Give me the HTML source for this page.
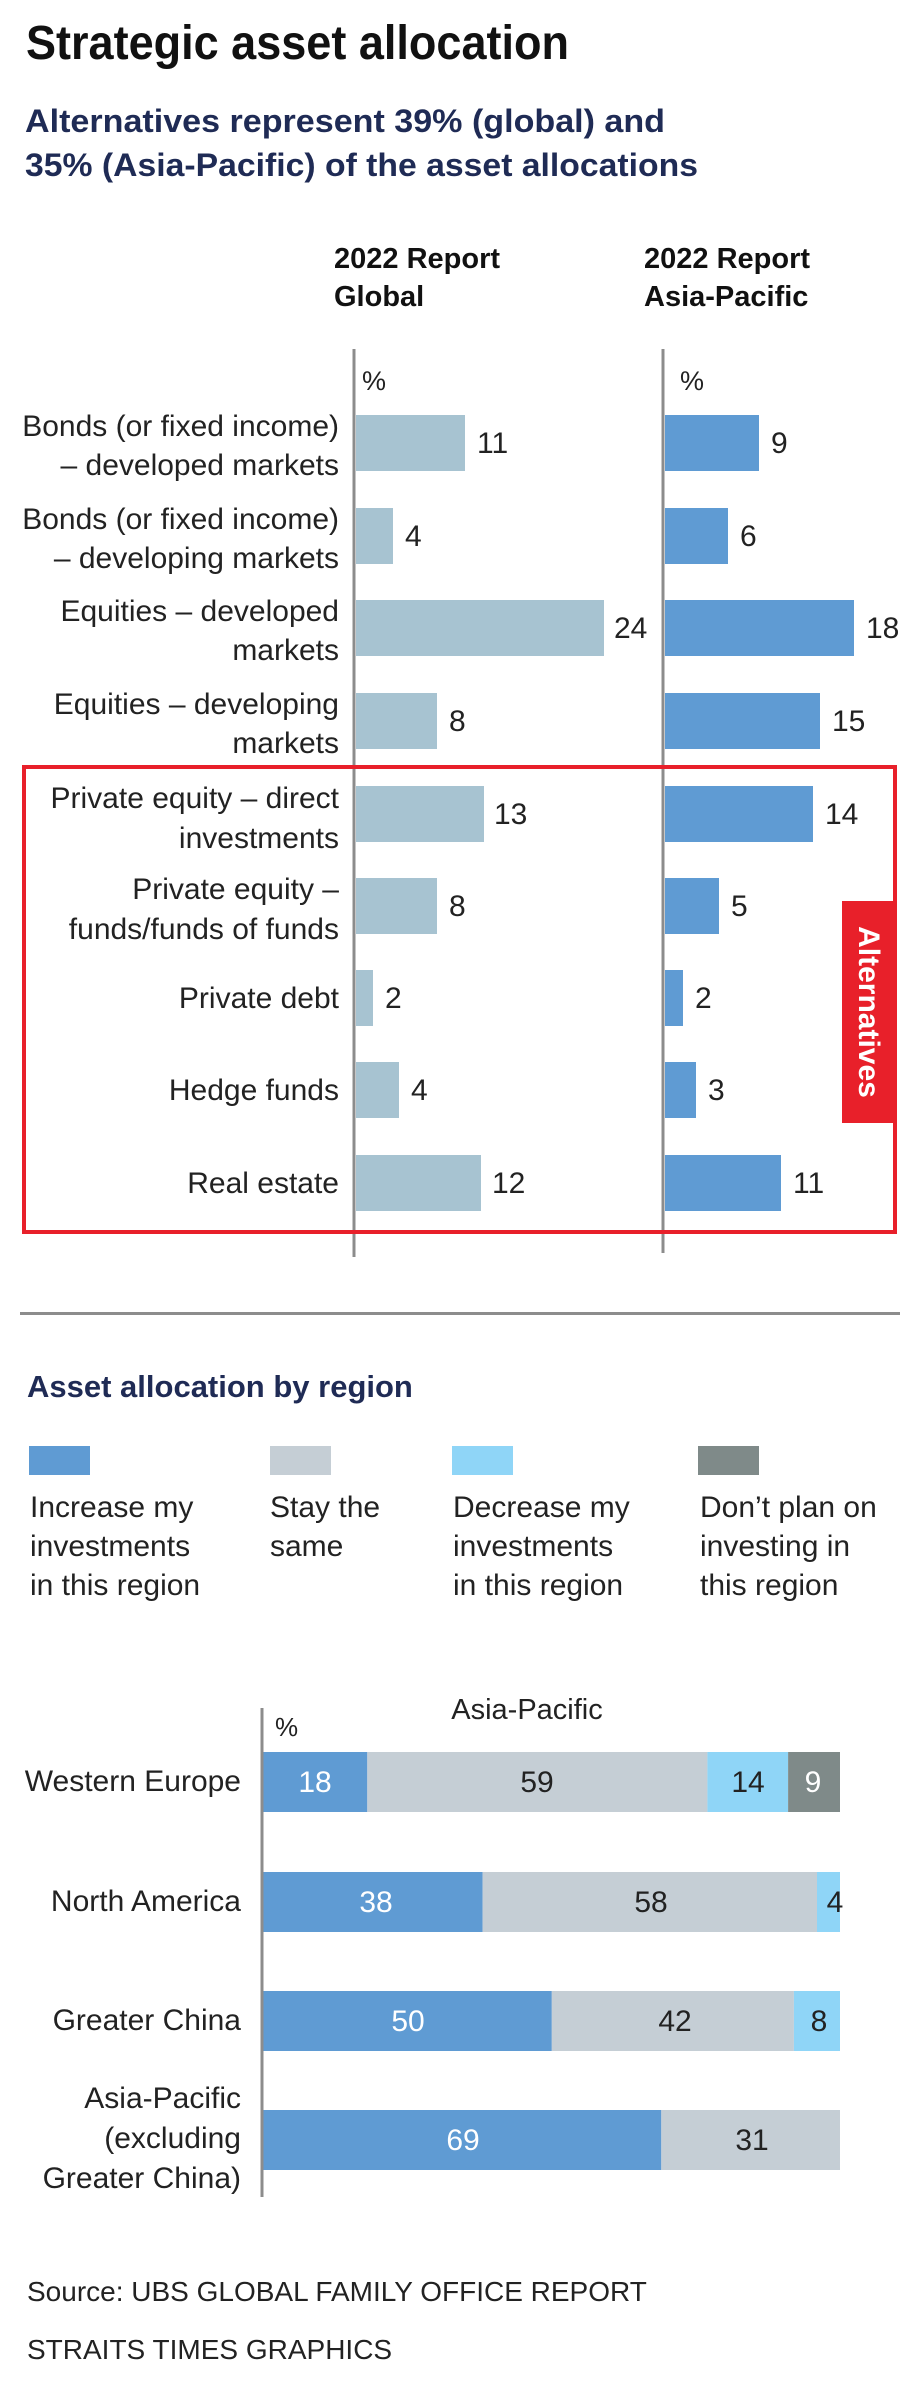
<!DOCTYPE html>
<html><head><meta charset="utf-8"><style>
html,body{margin:0;padding:0;background:#fff;}
svg{display:block;}
text{font-family:"Liberation Sans Narrow","Liberation Sans",sans-serif;}
.b{font-weight:bold;}
</style></head><body>
<svg width="920" height="2388" viewBox="0 0 920 2388" xmlns="http://www.w3.org/2000/svg">
<text x="26" y="59" font-size="48" class="b" fill="#111" textLength="543" lengthAdjust="spacingAndGlyphs">Strategic asset allocation</text>
<text x="25" y="132" font-size="32" class="b" fill="#1f2b55" textLength="640" lengthAdjust="spacingAndGlyphs">Alternatives represent 39% (global) and</text>
<text x="25" y="176" font-size="32" class="b" fill="#1f2b55" textLength="673" lengthAdjust="spacingAndGlyphs">35% (Asia-Pacific) of the asset allocations</text>
<g font-size="29" class="b" fill="#111">
<text x="334" y="268">2022 Report</text><text x="334" y="306">Global</text>
<text x="644" y="268">2022 Report</text><text x="644" y="306">Asia-Pacific</text>
</g>
<rect x="352.5" y="349" width="3" height="908" fill="#8c8c8c"/>
<rect x="661.5" y="349" width="3" height="904" fill="#8c8c8c"/>
<g font-size="27" fill="#222"><text x="362" y="390">%</text><text x="680" y="390">%</text></g>
<rect x="24" y="767" width="871" height="465" fill="none" stroke="#e8202a" stroke-width="4"/>
<g fill="#a7c3d1">
<rect x="356" y="415" width="109" height="56"/>
<rect x="356" y="508" width="37" height="56"/>
<rect x="356" y="600" width="248" height="56"/>
<rect x="356" y="693" width="81" height="56"/>
<rect x="356" y="786" width="128" height="56"/>
<rect x="356" y="878" width="81" height="56"/>
<rect x="356" y="970" width="17" height="56"/>
<rect x="356" y="1062" width="43" height="56"/>
<rect x="356" y="1155" width="125" height="56"/>
</g>
<g fill="#5f9bd3">
<rect x="665" y="415" width="94" height="56"/>
<rect x="665" y="508" width="63" height="56"/>
<rect x="665" y="600" width="189" height="56"/>
<rect x="665" y="693" width="155" height="56"/>
<rect x="665" y="786" width="148" height="56"/>
<rect x="665" y="878" width="54" height="56"/>
<rect x="665" y="970" width="18" height="56"/>
<rect x="665" y="1062" width="31" height="56"/>
<rect x="665" y="1155" width="116" height="56"/>
</g>
<g font-size="30" fill="#222">
<text x="477" y="453">11</text><text x="405" y="546">4</text><text x="614" y="638">24</text><text x="449" y="731">8</text>
<text x="494" y="824">13</text><text x="449" y="916">8</text><text x="385" y="1008">2</text><text x="411" y="1100">4</text><text x="492" y="1193">12</text>
<text x="771" y="453">9</text><text x="740" y="546">6</text><text x="866" y="638">18</text><text x="832" y="731">15</text>
<text x="825" y="824">14</text><text x="731" y="916">5</text><text x="695" y="1008">2</text><text x="708" y="1100">3</text><text x="793" y="1193">11</text>
</g>
<g font-size="30" fill="#222" text-anchor="end">
<text x="339" y="436">Bonds (or fixed income)</text><text x="339" y="475">– developed markets</text>
<text x="339" y="529">Bonds (or fixed income)</text><text x="339" y="568">– developing markets</text>
<text x="339" y="621">Equities – developed</text><text x="339" y="660">markets</text>
<text x="339" y="714">Equities – developing</text><text x="339" y="753">markets</text>
<text x="339" y="808">Private equity – direct</text><text x="339" y="848">investments</text>
<text x="339" y="899">Private equity –</text><text x="339" y="939">funds/funds of funds</text>
<text x="339" y="1008">Private debt</text>
<text x="339" y="1100">Hedge funds</text>
<text x="339" y="1193">Real estate</text>
</g>
<rect x="842" y="901" width="55" height="222" fill="#e8202a"/>
<text transform="translate(859,1012) rotate(90)" text-anchor="middle" font-size="30" class="b" fill="#fff">Alternatives</text>
<rect x="20" y="1312" width="880" height="3" fill="#8c8c8c"/>
<text x="27" y="1397" font-size="31" class="b" fill="#1f2b55">Asset allocation by region</text>
<rect x="29" y="1446" width="61" height="29" fill="#5f9bd3"/>
<rect x="270" y="1446" width="61" height="29" fill="#c5ced5"/>
<rect x="452" y="1446" width="61" height="29" fill="#8fd5f7"/>
<rect x="698" y="1446" width="61" height="29" fill="#7f8a89"/>
<g font-size="30" fill="#222">
<text x="30" y="1517">Increase my</text><text x="30" y="1556">investments</text><text x="30" y="1595">in this region</text>
<text x="270" y="1517">Stay the</text><text x="270" y="1556">same</text>
<text x="453" y="1517">Decrease my</text><text x="453" y="1556">investments</text><text x="453" y="1595">in this region</text>
<text x="700" y="1517">Don’t plan on</text><text x="700" y="1556">investing in</text><text x="700" y="1595">this region</text>
</g>
<text x="527" y="1719" font-size="29" fill="#222" text-anchor="middle">Asia-Pacific</text>
<text x="275" y="1736" font-size="26" fill="#222">%</text>
<rect x="260.5" y="1708" width="3" height="489" fill="#8c8c8c"/>
<g>
<rect x="263.5" y="1752" width="103.8" height="60" fill="#5f9bd3"/>
<rect x="367.3" y="1752" width="340.1" height="60" fill="#c5ced5"/>
<rect x="707.4" y="1752" width="80.7" height="60" fill="#8fd5f7"/>
<rect x="788.1" y="1752" width="51.9" height="60" fill="#7f8a89"/>
<rect x="263.5" y="1872" width="219.1" height="60" fill="#5f9bd3"/>
<rect x="482.6" y="1872" width="334.4" height="60" fill="#c5ced5"/>
<rect x="817" y="1872" width="23" height="60" fill="#8fd5f7"/>
<rect x="263.5" y="1991" width="288.3" height="60" fill="#5f9bd3"/>
<rect x="551.8" y="1991" width="242.1" height="60" fill="#c5ced5"/>
<rect x="793.9" y="1991" width="46.1" height="60" fill="#8fd5f7"/>
<rect x="263.5" y="2110" width="397.8" height="60" fill="#5f9bd3"/>
<rect x="661.3" y="2110" width="178.7" height="60" fill="#c5ced5"/>
</g>
<g font-size="30" text-anchor="middle">
<text x="315" y="1792" fill="#fff">18</text><text x="537" y="1792" fill="#222">59</text><text x="748" y="1792" fill="#222">14</text><text x="813" y="1792" fill="#fff">9</text>
<text x="376" y="1912" fill="#fff">38</text><text x="651" y="1912" fill="#222">58</text><text x="835" y="1912" fill="#222">4</text>
<text x="408" y="2031" fill="#fff">50</text><text x="675" y="2031" fill="#222">42</text><text x="819" y="2031" fill="#222">8</text>
<text x="463" y="2150" fill="#fff">69</text><text x="752" y="2150" fill="#222">31</text>
</g>
<g font-size="30" fill="#222" text-anchor="end">
<text x="241" y="1791">Western Europe</text>
<text x="241" y="1911">North America</text>
<text x="241" y="2030">Greater China</text>
<text x="241" y="2108">Asia-Pacific</text><text x="241" y="2148">(excluding</text><text x="241" y="2188">Greater China)</text>
</g>
<g font-size="28" fill="#222">
<text x="27" y="2301">Source: UBS GLOBAL FAMILY OFFICE REPORT</text>
<text x="27" y="2359">STRAITS TIMES GRAPHICS</text>
</g>
</svg>
</body></html>
